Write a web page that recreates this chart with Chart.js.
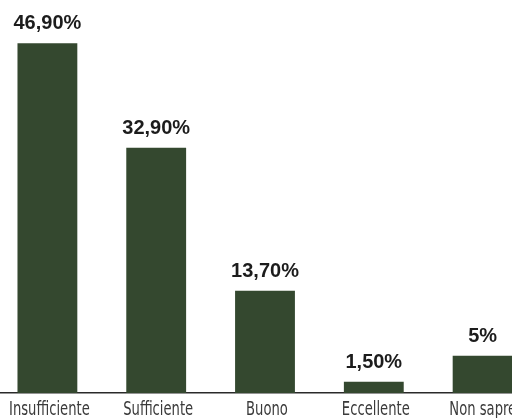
<!DOCTYPE html>
<html>
<head>
<meta charset="utf-8">
<script src="https://cdn.jsdelivr.net/npm/chart.js@4"></script>
<style>
  html, body { margin: 0; padding: 0; background: #ffffff; overflow: hidden; }
  #wrap { position: absolute; left: -7px; top: 0; width: 544px; height: 418px; }
</style>
</head>
<body>
<div id="wrap"><canvas id="chart"></canvas></div>
<script>
const categories = ['Insufficiente', 'Sufficiente', 'Buono', 'Eccellente', 'Non saprei'];
const values = [46.9, 32.9, 13.7, 1.5, 5];
const valueLabels = ['46,90%', '32,90%', '13,70%', '1,50%', '5%'];

// scritte sopra le barre e nomi delle categorie (carattere stretto)
const barLabels = {
    id: 'barLabels',
    afterDatasetsDraw(chart) {
        const ctx = chart.ctx;
        const meta = chart.getDatasetMeta(0);
        const xScale = chart.scales.x;
        ctx.save();
        ctx.font = 'bold 20px "Liberation Sans", Arial, sans-serif';
        ctx.fillStyle = '#1c1c1c';
        ctx.textAlign = 'center';
        ctx.textBaseline = 'alphabetic';
        meta.data.forEach((bar, i) => {
            ctx.fillText(valueLabels[i], bar.x, bar.y - 14);
        });
        ctx.restore();

        ctx.save();
        ctx.font = '19px "Liberation Sans Narrow", "DejaVu Sans Condensed", sans-serif';
        ctx.fillStyle = '#3a3a3a';
        ctx.textAlign = 'center';
        ctx.textBaseline = 'alphabetic';
        categories.forEach((name, i) => {
            const x = xScale.getPixelForValue(i) + 2;
            ctx.save();
            ctx.translate(x, xScale.top + 22);
            ctx.scale(0.77, 1);
            ctx.fillText(name, 0, 0);
            ctx.restore();
        });
        ctx.restore();
    }
};

new Chart(document.getElementById('chart'), {
    type: 'bar',
    data: {
        labels: categories,
        datasets: [{
            data: values,
            backgroundColor: '#34482f',
            categoryPercentage: 1,
            barPercentage: 0.55
        }]
    },
    options: {
        responsive: true,
        maintainAspectRatio: false,
        animation: false,
        layout: { padding: 0 },
        plugins: { legend: { display: false }, tooltip: { enabled: false } },
        scales: {
            x: {
                grid: { display: false },
                border: { display: true, color: '#2a2a2a', width: 1.5 },
                ticks: { display: false },
                afterFit(scale) { scale.height = 25; }
            },
            y: {
                display: false,
                min: 0,
                max: 52.7
            }
        }
    },
    plugins: [barLabels]
});
</script>
</body>
</html>
